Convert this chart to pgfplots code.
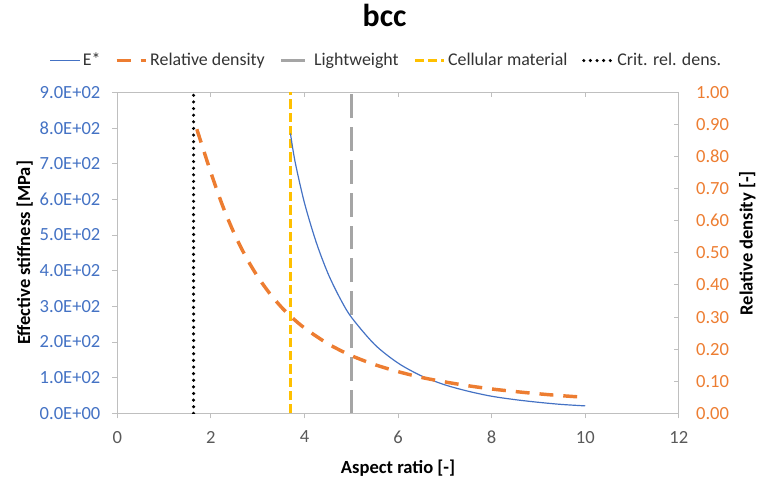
\documentclass[border=0pt]{standalone}
\usepackage{fontspec}
\setmainfont{Carlito}
\usepackage{pgfplots}
\pgfplotsset{compat=1.18}

\definecolor{eblue}{HTML}{4472C4}
\definecolor{rorange}{HTML}{ED7D31}
\definecolor{lwgray}{HTML}{A5A5A5}
\definecolor{cyellow}{HTML}{FFC000}
\definecolor{axgray}{HTML}{BFBFBF}
\definecolor{txtgray}{HTML}{595959}

\pgfplotsset{
  bccbase/.style={
    scale only axis,
    width=423.75pt, height=242.25pt,
    at={(0,0)}, anchor=south west,
    xmin=0, xmax=12,
    major tick length=3.75pt,
    every tick/.style={axgray, line width=0.75pt},
    tick label style={font=\fontsize{14}{16}\selectfont},
    label style={font=\fontsize{14}{16}\selectfont\bfseries},
  },
}

\begin{document}
\begin{tikzpicture}

% left axis: E* and the vertical marker lines
\begin{axis}[
    bccbase,
    ymin=0, ymax=900,
    axis line style={axgray, line width=0.75pt},
    xtick={0,2,4,6,8,10,12},
    xticklabels={0,2,4,6,8,10,12},
    ytick={0,100,200,300,400,500,600,700,800,900},
    yticklabels={0.0E+00,1.0E+02,2.0E+02,3.0E+02,4.0E+02,5.0E+02,6.0E+02,7.0E+02,8.0E+02,9.0E+02},
    xtick pos=bottom, ytick pos=left,
    tick align=outside,
    xticklabel style={txtgray, yshift=-6pt},
    yticklabel style={eblue, xshift=-5.5pt},
    xlabel={Aspect ratio [-]},
    ylabel={Effective stiffness [MPa]},
    xlabel style={at={(axis description cs:0.5,-0.17)}, anchor=center},
    ylabel style={at={(axis description cs:-0.165,0.5)}, anchor=center},
    title={bcc},
    title style={at={(axis description cs:0.476,1.214)}, anchor=center,
      font=\fontsize{24}{28}\selectfont\bfseries},
    legend columns=5,
    legend style={draw=none, fill=none,
      at={(axis description cs:0.48,1.099)}, anchor=center,
      font=\fontsize{13.5}{15}\selectfont, text=black!80,
      /tikz/every even column/.append style={column sep=9pt}},
    legend image code/.code={\draw[#1] (0pt,0pt) -- (22pt,0pt);},
]
\addlegendimage{eblue, line width=0.9pt}
\addlegendentry{E*}
\addlegendimage{rorange, line width=2.6pt, dash pattern=on 10.5pt off 7.5pt}
\addlegendentry{Relative density}
\addlegendimage{lwgray, line width=2.25pt, dash pattern=on 18pt off 6.75pt}
\addlegendentry{Lightweight}
\addlegendimage{cyellow, line width=2.25pt, dash pattern=on 7pt off 3pt}
\addlegendentry{Cellular material}
\addlegendimage{black, line width=2.6pt, line cap=round, dash pattern=on 0pt off 5pt}
\addlegendentry{Crit. rel. dens.}

% Crit. rel. dens.
\addplot[forget plot, black, line width=2.6pt, line cap=round, dash pattern=on 0pt off 5pt]
coordinates {(1.63,0) (1.63,900)};
% Cellular material
\addplot[forget plot, cyellow, line width=2.25pt, dash pattern=on 7pt off 3pt]
coordinates {(3.7,0) (3.7,900)};
% Lightweight
\addplot[forget plot, lwgray, line width=2.25pt, dash pattern=on 18pt off 6.75pt]
coordinates {(5,0) (5,900)};

% E*
\addplot[forget plot, eblue, line width=0.9pt, smooth]
coordinates {
    (3.7,785) (3.8,705) (4.0,590) (4.25,480) (4.5,393) (4.75,325)
    (5.0,270) (5.5,193) (6.0,141) (6.5,105) (7.0,80) (7.5,62)
    (8.0,48) (8.5,38.5) (9.0,31) (9.5,25) (10.0,21)
};
\end{axis}

% right axis: relative density
\begin{axis}[
    bccbase,
    ymin=0, ymax=1,
    axis line style={draw=none},
    xtick={2,4,6,8,10}, xticklabels={},
    xtick pos=top,
    ytick={0,0.1,0.2,0.3,0.4,0.5,0.6,0.7,0.8,0.9,1.0},
    yticklabels={0.00,0.10,0.20,0.30,0.40,0.50,0.60,0.70,0.80,0.90,1.00},
    ytick pos=right,
    tick align=inside,
    yticklabel style={rorange, xshift=9.5pt},
    ylabel={Relative density [-]},
    ylabel style={at={(axis description cs:1.122,0.53)}, anchor=center},
]
\addplot[rorange, line width=2.6pt, dash pattern=on 10.5pt off 7.5pt, smooth]
coordinates {
    (1.7,0.885) (1.8,0.840) (2.0,0.750) (2.25,0.647) (2.5,0.560)
    (2.75,0.487) (3.0,0.426) (3.25,0.375) (3.5,0.332) (3.7,0.303)
    (4.0,0.266) (4.5,0.217) (5.0,0.180) (5.5,0.152) (6.0,0.130)
    (6.5,0.112) (7.0,0.098) (7.5,0.086) (8.0,0.076) (8.5,0.068)
    (9.0,0.061) (9.5,0.055) (10.0,0.050)
};
\end{axis}

\path[use as bounding box] (-88.5pt,-51.75pt) rectangle (481.5pt,307.5pt);
\end{tikzpicture}
\end{document}
